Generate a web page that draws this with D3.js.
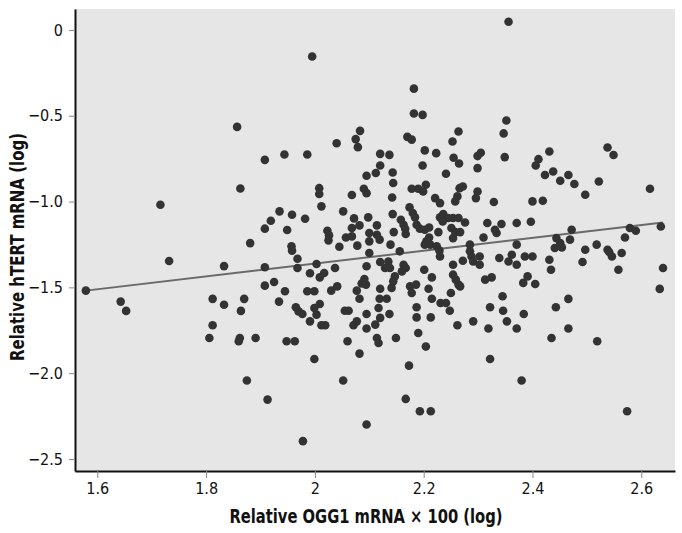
<!DOCTYPE html>
<html>
<head>
<meta charset="utf-8">
<script src="https://cdn.jsdelivr.net/npm/d3@7"></script>
<style>
  body { margin: 0; background: #fff; }
  text { font-family: "Liberation Sans Narrow", "DejaVu Sans Condensed", "Liberation Sans", sans-serif; }
</style>
</head>
<body>
<div class="container"></div>
<script>
// x tick values / labels (Relative OGG1 mRNA x 100, log)
var xTicks = [1.6, 1.8, 2, 2.2, 2.4, 2.6];
var xTickLabels = ["1.6", "1.8", "2", "2.2", "2.4", "2.6"];
// y tick values / labels (Relative hTERT mRNA, log)
var yTicks = [0, -0.5, -1, -1.5, -2, -2.5];
var yTickLabels = ["0", "\u22120.5", "\u22121.0", "\u22121.5", "\u22122.0", "\u22122.5"];

// fitted line end points
var fitX = [1.579, 2.640];
var fitY = [-1.519, -1.122];

// samples: [OGG1, hTERT]
var samples = [
  [1.995, -0.155], [1.857, -0.565], [1.908, -0.757], [1.944, -0.726], [1.986, -0.726],
  [2.040, -0.660], [2.083, -0.588], [2.075, -0.636], [2.079, -0.683], [2.095, -0.850],
  [2.356, 0.048], [2.182, -0.342], [2.182, -0.487], [2.198, -0.495], [2.170, -0.623],
  [2.178, -0.639], [2.202, -0.702], [2.223, -0.718], [2.198, -0.790], [2.120, -0.722],
  [2.137, -0.728], [2.120, -0.790], [2.112, -0.834], [2.143, -0.831], [2.264, -0.592],
  [2.253, -0.650], [2.255, -0.745], [2.265, -0.778], [2.241, -0.838], [2.299, -0.735],
  [2.305, -0.716], [2.299, -0.805], [2.352, -0.528], [2.347, -0.603], [2.349, -0.741],
  [2.431, -0.708], [2.411, -0.753], [2.406, -0.790], [2.438, -0.825], [2.466, -0.845],
  [2.423, -0.845], [2.538, -0.685], [2.549, -0.729], [2.451, -0.879], [2.477, -0.898],
  [2.522, -0.883], [2.616, -0.925], [2.497, -0.960], [2.400, -0.999], [2.419, -0.995],
  [2.397, -1.118], [2.472, -1.164], [2.469, -1.222], [2.444, -1.213], [2.451, -1.242],
  [2.441, -1.271], [2.454, -1.267], [2.518, -1.251], [2.497, -1.281], [2.492, -1.352],
  [2.538, -1.281], [2.541, -1.294], [2.546, -1.320], [2.564, -1.300], [2.558, -1.397],
  [2.570, -1.209], [2.579, -1.154], [2.590, -1.170], [2.636, -1.145], [2.640, -1.387],
  [2.634, -1.509], [2.386, -1.320], [2.400, -1.320], [2.431, -1.339], [2.434, -1.397],
  [2.391, -1.436], [2.383, -1.474], [2.405, -1.480], [2.466, -1.567], [2.443, -1.616],
  [2.384, -1.655], [2.466, -1.740], [2.435, -1.795], [2.519, -1.814], [2.574, -2.222],
  [2.380, -2.043],
  [1.716, -1.019], [1.732, -1.346], [1.579, -1.519], [1.643, -1.583], [1.653, -1.637],
  [1.812, -1.567], [1.812, -1.721], [1.806, -1.795], [1.833, -1.376], [1.833, -1.601],
  [1.863, -0.924], [2.008, -0.922], [2.008, -0.956], [2.012, -1.028], [2.090, -0.925],
  [2.095, -0.951], [2.068, -0.962], [2.052, -1.057], [2.072, -1.098], [2.098, -1.092],
  [2.068, -1.154], [2.082, -1.139], [2.057, -1.209], [2.068, -1.203], [2.045, -1.263],
  [2.078, -1.257], [2.100, -1.183], [2.100, -1.232], [1.935, -1.057], [1.958, -1.077],
  [1.919, -1.112], [1.908, -1.158], [1.982, -1.100], [1.949, -1.166], [2.023, -1.170],
  [2.026, -1.197], [2.025, -1.226], [1.881, -1.242], [1.957, -1.261], [1.958, -1.286],
  [1.968, -1.333], [1.968, -1.387], [1.908, -1.383], [2.003, -1.364], [1.991, -1.418],
  [2.037, -1.387], [2.009, -1.442], [2.017, -1.416], [2.095, -1.377], [2.091, -1.451],
  [2.086, -1.477], [2.094, -1.484], [1.908, -1.490], [1.925, -1.469], [1.945, -1.523],
  [1.986, -1.523], [1.999, -1.523], [2.030, -1.519], [2.041, -1.494], [2.077, -1.519],
  [2.082, -1.566], [1.870, -1.567], [1.864, -1.637], [1.934, -1.583], [1.965, -1.616],
  [1.970, -1.640], [1.977, -1.655], [1.991, -1.698], [1.999, -1.620], [2.009, -1.597],
  [2.003, -1.659], [2.012, -1.721], [2.019, -1.721], [2.055, -1.636], [2.062, -1.636],
  [2.077, -1.698], [2.071, -1.721], [2.095, -1.655], [2.095, -1.740], [1.862, -1.795],
  [1.860, -1.814], [1.891, -1.795], [1.948, -1.814], [1.963, -1.814], [2.060, -1.814],
  [2.144, -0.892], [2.178, -0.925], [2.190, -0.925], [2.199, -0.941], [2.204, -0.902],
  [2.142, -0.976], [2.221, -0.980], [2.230, -1.009], [2.266, -0.922], [2.272, -0.912],
  [2.262, -0.970], [2.258, -0.999], [2.299, -0.941], [2.296, -0.980], [2.329, -1.003],
  [2.143, -1.073], [2.174, -1.034], [2.180, -1.067], [2.184, -1.092], [2.158, -1.106],
  [2.163, -1.135], [2.166, -1.158], [2.114, -1.139], [2.145, -1.178], [2.167, -1.189],
  [2.187, -1.135], [2.193, -1.158], [2.202, -1.164], [2.210, -1.151], [2.230, -1.092],
  [2.236, -1.073], [2.235, -1.116], [2.245, -1.096], [2.254, -1.096], [2.264, -1.096],
  [2.276, -1.122], [2.251, -1.154], [2.258, -1.178], [2.267, -1.178], [2.254, -1.213],
  [2.227, -1.178], [2.210, -1.209], [2.205, -1.232], [2.202, -1.251], [2.212, -1.251],
  [2.224, -1.261], [2.229, -1.286], [2.230, -1.320], [2.114, -1.193], [2.119, -1.222],
  [2.139, -1.251], [2.156, -1.290], [2.100, -1.300], [2.120, -1.352], [2.129, -1.387],
  [2.138, -1.387], [2.135, -1.349], [2.163, -1.368], [2.167, -1.387], [2.160, -1.407],
  [2.201, -1.397], [2.215, -1.442], [2.147, -1.436], [2.144, -1.465], [2.141, -1.503],
  [2.175, -1.494], [2.186, -1.484], [2.178, -1.533], [2.120, -1.508], [2.209, -1.508],
  [2.119, -1.566], [2.132, -1.566], [2.215, -1.566], [2.250, -1.533], [2.117, -1.620],
  [2.137, -1.655], [2.187, -1.616], [2.187, -1.675], [2.213, -1.675], [2.231, -1.591],
  [2.241, -1.591], [2.248, -1.636], [2.120, -1.678], [2.111, -1.717], [2.262, -1.721],
  [2.291, -1.698], [2.319, -1.740], [2.190, -1.766], [2.149, -1.795], [2.114, -1.795],
  [2.117, -1.824], [2.204, -1.845], [2.254, -1.368], [2.254, -1.426], [2.259, -1.455],
  [2.264, -1.484], [2.267, -1.494], [2.272, -1.345], [2.285, -1.251], [2.285, -1.290],
  [2.288, -1.320], [2.291, -1.349], [2.303, -1.320], [2.303, -1.368], [2.310, -1.209],
  [2.313, -1.455], [2.325, -1.442], [2.317, -1.125], [2.331, -1.164], [2.334, -1.183],
  [2.343, -1.131], [2.339, -1.329], [2.356, -1.349], [2.362, -1.310], [2.371, -1.368],
  [2.371, -1.125], [2.371, -1.251], [2.345, -1.552], [2.322, -1.616], [2.346, -1.636],
  [2.353, -1.698], [2.371, -1.740],
  [1.875, -2.043], [1.913, -2.154], [1.978, -2.396], [1.999, -1.917], [2.052, -2.043],
  [2.095, -2.299], [2.082, -1.886], [2.173, -1.956], [2.322, -1.917], [2.167, -2.150],
  [2.193, -2.222], [2.213, -2.222]
];

var loadChart = function(){
    var width = 682, height = 533;
    var left = 75, top = 9, plotW = 600, plotH = 462;

    var x = d3.scaleLinear().domain([1.559, 2.662]).range([left, left + plotW]);
    var y = d3.scaleLinear().domain([-2.570, 0.122]).range([top + plotH, top]);

    var svg = d3.select('.container')
                .append('svg')
                .attr('width', width)
                .attr('height', height);

    svg.append('rect')
        .attr('x', left)
        .attr('y', top)
        .attr('width', plotW)
        .attr('height', plotH)
        .attr('fill', '#e6e6e6');

    // fit line
    svg.append('line')
        .attr('x1', x(fitX[0]))
        .attr('y1', y(fitY[0]))
        .attr('x2', x(fitX[1]))
        .attr('y2', y(fitY[1]))
        .attr('stroke', '#6a6a6a')
        .attr('stroke-width', 2);

    svg.selectAll('circle.pt')
        .data(samples)
        .enter()
        .append('circle')
        .attr('class', 'pt')
        .attr('cx', function(d) { return x(d[0]); })
        .attr('cy', function(d) { return y(d[1]); })
        .attr('r', 4.3)
        .attr('fill', '#333');

    var xAxis = svg.append('g')
        .attr('transform', 'translate(0,' + (top + plotH) + ')')
        .call(d3.axisBottom(x).tickValues(xTicks)
            .tickFormat(function(d, i) { return xTickLabels[i]; })
            .tickSize(7).tickSizeOuter(0).tickPadding(5));

    var yAxis = svg.append('g')
        .attr('transform', 'translate(' + left + ',0)')
        .call(d3.axisLeft(y).tickValues(yTicks)
            .tickFormat(function(d, i) { return yTickLabels[i]; })
            .tickSize(6).tickSizeOuter(0).tickPadding(6));

    [xAxis, yAxis].forEach(function(g) {
        g.select('.domain').attr('stroke', '#111').attr('stroke-width', 2);
        g.selectAll('.tick line').attr('stroke', '#888').attr('stroke-width', 1);
        g.selectAll('.tick text')
            .attr('fill', '#111')
            .style('font-size', '16px');
    });

    svg.append('text')
        .attr('x', 366)
        .attr('y', 523)
        .attr('text-anchor', 'middle')
        .attr('textLength', 273)
        .attr('lengthAdjust', 'spacingAndGlyphs')
        .style('font-size', '19px')
        .style('font-weight', 'bold')
        .attr('fill', '#111')
        .text('Relative OGG1 mRNA \u00d7 100 (log)');

    svg.append('text')
        .attr('transform', 'translate(24,247) rotate(-90)')
        .attr('text-anchor', 'middle')
        .attr('textLength', 228)
        .attr('lengthAdjust', 'spacingAndGlyphs')
        .style('font-size', '19px')
        .style('font-weight', 'bold')
        .attr('fill', '#111')
        .text('Relative hTERT mRNA (log)');
}
window.onload = loadChart;
</script>
</body>
</html>
